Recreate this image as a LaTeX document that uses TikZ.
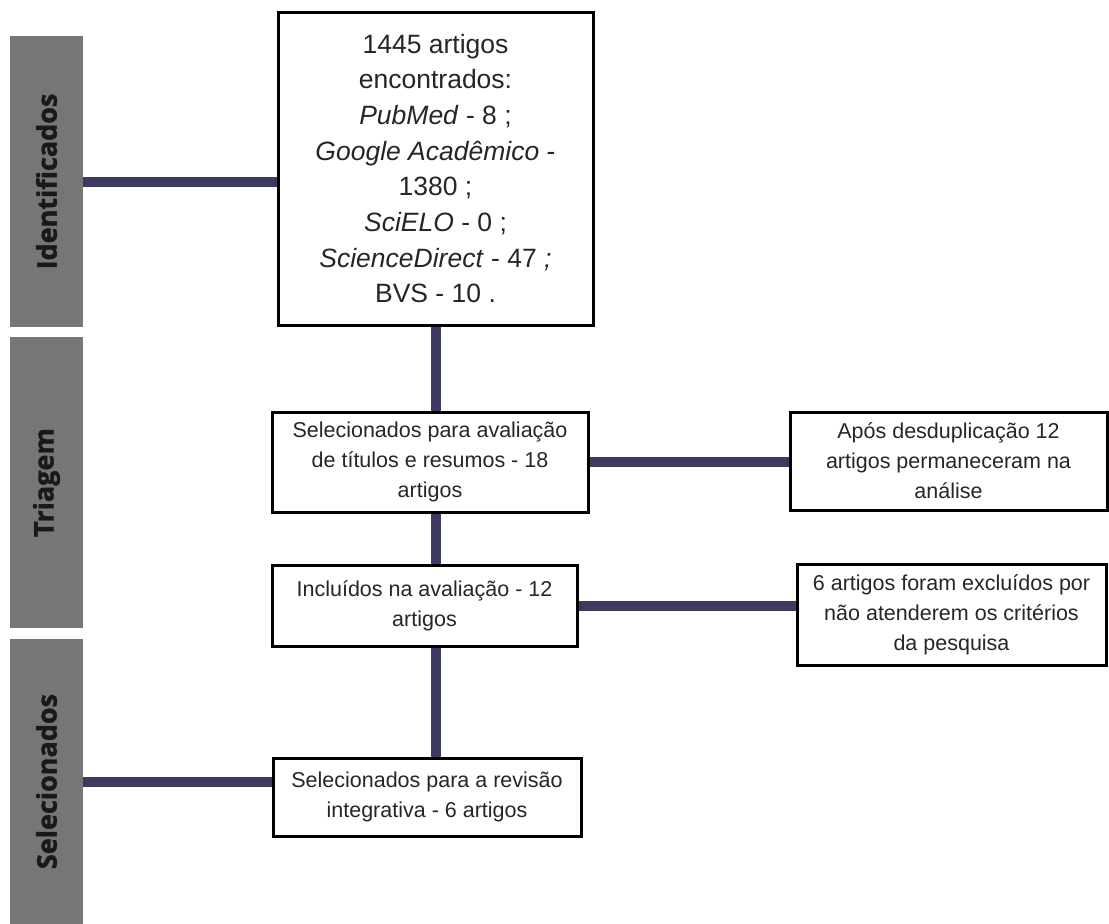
\documentclass[tikz,border=0pt]{standalone}
\usepackage{fontspec}
\setmainfont{Liberation Sans}
\newfontfamily\barfont{Open Sans}[BoldFeatures={FakeBold=1.5}]

\definecolor{barcolor}{RGB}{118,118,118}
\definecolor{linkcolor}{RGB}{61,59,98}
\definecolor{txtcolor}{RGB}{38,38,38}

\begin{document}
\begin{tikzpicture}[x=1pt, y=-1pt,
  phase/.style={rotate=90, fill=barcolor, minimum height=73pt, inner sep=0pt,
    font=\barfont\bfseries\fontsize{27}{30}\selectfont, text=black!90},
  box/.style={draw=black, line width=3pt, fill=white, align=center, inner sep=0pt,
    text=txtcolor, font=\fontsize{21.5}{30}\selectfont},
  link/.style={draw=linkcolor, line width=10pt}]
  \useasboundingbox (0,0) rectangle (1109,924);

  % phase bars (rotated, so south is the right side)
  \node[phase, minimum width=291pt] (ident)  at (46.5,181.5) {Identificados};
  \node[phase, minimum width=291pt] (triag)  at (46.5,482.5) {Triagem};
  \node[phase, minimum width=285pt] (selec)  at (46.5,781.5) {Selecionados};

  % boxes
  \node[box, minimum width=315pt, minimum height=313pt,
    font=\fontsize{26.5}{35.7}\selectfont] (encontrados) at (435.5,168.5)
    {1445 artigos\\ encontrados:\\ \textit{PubMed} - 8 ;\\ \textit{Google Acadêmico} -\\
     1380 ;\\ \textit{SciELO} - 0 ;\\ \textit{ScienceDirect} - 47 \textit{;}\\ BVS - 10 .};
  \node[box, minimum width=316pt, minimum height=100pt] (titulos) at (430,462)
    {Selecionados para avaliação\\ de títulos e resumos - 18\\ artigos};
  \node[box, minimum width=317pt, minimum height=98pt] (duplic) at (948.5,461)
    {Após desduplicação 12\\ artigos permaneceram na\\ análise};
  \node[box, minimum width=305pt, minimum height=81pt] (incluidos) at (424.5,605.5)
    {Incluídos na avaliação - 12\\ artigos};
  \node[box, minimum width=309pt, minimum height=101pt] (excluidos) at (951.5,614.5)
    {6 artigos foram excluídos por\\ não atenderem os critérios\\ da pesquisa};
  \node[box, minimum width=308pt, minimum height=78pt] (revisao) at (427,797)
    {Selecionados para a revisão\\ integrativa - 6 artigos};

  % connectors (one vertical spine under the top box)
  \draw[link] (ident.south) -- (ident.south -| encontrados.west);
  \draw[link] (encontrados.south) -- (encontrados.south |- titulos.north);
  \draw[link] (titulos.east) -- (titulos.east -| duplic.west);
  \draw[link] (titulos.south -| encontrados.south) -- (incluidos.north -| encontrados.south);
  \draw[link] (incluidos.east) -- (incluidos.east -| excluidos.west);
  \draw[link] (incluidos.south -| encontrados.south) -- (revisao.north -| encontrados.south);
  \draw[link] (selec.south) -- (selec.south -| revisao.west);
\end{tikzpicture}
\end{document}
